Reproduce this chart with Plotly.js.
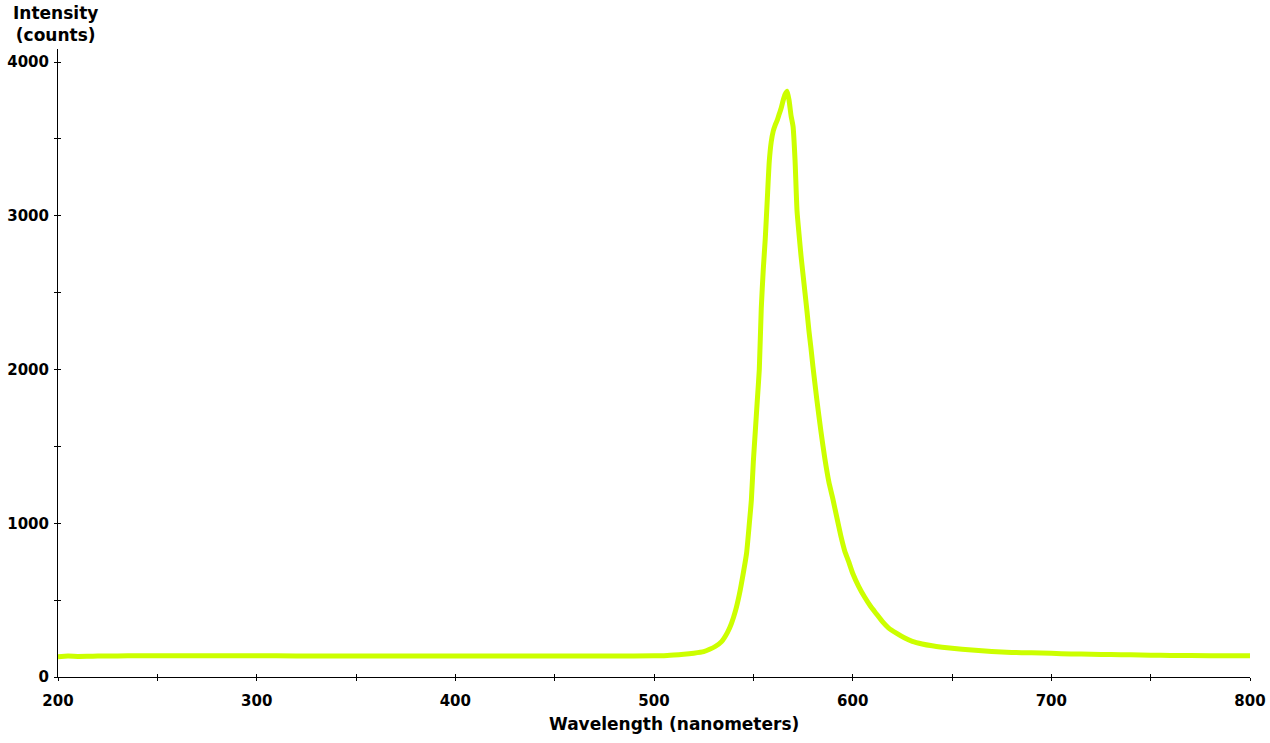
<!DOCTYPE html>
<html>
<head>
<meta charset="utf-8">
<script src="https://cdn.plot.ly/plotly-3.0.1.min.js"></script>
<style>html,body{margin:0;padding:0;background:#fff;}#chart{width:1270px;height:743px;}</style>
</head>
<body>
<div id="chart"></div>
<script>
const wavelength = [200,205,210,215,220,230,240,260,280,300,320,340,360,380,400,420,440,460,480,500,505,510,515,520,525,528,531,534,537,539,541,543,545,546.6,548,549,550,551,552,553,554,555,556,557,558,559,560,561,562,563,564,565,566,567,568,569,570,571,572,573,574,575,576,577,578,579,580,582,584,586,588,590,592,594,596,598,600,603,606,609,612,615,618,622,626,630,635,640,645,650,660,670,680,690,700,710,720,730,740,750,760,780,800];
const intensity = [132,136,134,135,136,137,139,138,138,138,137,137,137,136,137,137,137,137,137,138,139,143,148,155,165,180,200,230,290,349,430,540,680,806,1000,1150,1400,1600,1800,2000,2400,2650,2850,3100,3350,3480,3550,3590,3620,3660,3700,3750,3790,3810,3750,3650,3580,3360,3030,2880,2740,2620,2500,2380,2250,2140,2020,1800,1600,1420,1270,1160,1040,920,820,750,675,590,520,460,410,360,320,285,255,232,215,203,194,187,175,166,160,157,154,150,148,146,144,142,140,139,138];
const xTickVals = [200,300,400,500,600,700,800];
const yTickVals = [0,1000,2000,3000,4000];
const xTitle = 'Wavelength (nanometers)';
const yTitle = 'Intensity<br>(counts)';

const tickFont = {family:'DejaVu Sans', size:15, color:'#000', weight:'bold'};
const baseAxis = {showgrid:false, zeroline:false, showline:true, linecolor:'#000', linewidth:1,
  ticks:'outside', ticklen:3, tickwidth:1, tickcolor:'#000', tickfont:tickFont, fixedrange:true};

const traces = [
  {x:wavelength, y:intensity, type:'scatter', mode:'lines',
   line:{color:'rgb(204,255,0)', width:5, shape:'spline', smoothing:0.5}, hoverinfo:'skip', showlegend:false},
  {x:[wavelength[0]], y:[intensity[0]], xaxis:'x2', yaxis:'y2', type:'scatter', mode:'markers',
   marker:{opacity:0}, hoverinfo:'skip', showlegend:false}
];

const layout = {
  width:1270, height:743,
  margin:{l:58, r:20, t:49, b:66},
  paper_bgcolor:'#fff', plot_bgcolor:'#fff',
  xaxis:Object.assign({}, baseAxis, {range:[200,800], tickvals:xTickVals, ticklabelstandoff:7,
    minor:{dtick:50, tick0:200, ticks:'outside', ticklen:3, tickcolor:'#000', tickwidth:1}}),
  yaxis:Object.assign({}, baseAxis, {range:[0,4085], tickvals:yTickVals, ticklabelstandoff:2,
    minor:{dtick:500, tick0:0, ticks:'outside', ticklen:3, tickcolor:'#000', tickwidth:1}}),
  xaxis2:{overlaying:'x', anchor:'y2', range:[200,800], showline:false, showgrid:false, zeroline:false,
    showticklabels:false, ticks:'inside', ticklen:3, tickcolor:'#000', tickvals:xTickVals, side:'bottom',
    minor:{dtick:50, tick0:200, ticks:'inside', ticklen:3, tickcolor:'#000'}},
  yaxis2:{overlaying:'y', anchor:'x2', range:[0,4085], showline:false, showgrid:false, zeroline:false,
    showticklabels:false, ticks:'inside', ticklen:3, tickcolor:'#000', tickvals:yTickVals, side:'left',
    minor:{dtick:500, tick0:0, ticks:'inside', ticklen:3, tickcolor:'#000'}},
  annotations:[
    {text:xTitle, xref:'paper', yref:'paper', x:0.517, y:-0.0756, xanchor:'center', yanchor:'middle',
     showarrow:false, font:{family:'DejaVu Sans', size:17, color:'#000', weight:'bold'}},
    {text:yTitle, xref:'paper', yref:'paper', x:-0.0017, y:1.0406, xanchor:'center', yanchor:'middle',
     showarrow:false, font:{family:'DejaVu Sans', size:17, color:'#000', weight:'bold'}}
  ]
};

Plotly.newPlot('chart', traces, layout, {displayModeBar:false, staticPlot:true});
</script>
</body>
</html>
